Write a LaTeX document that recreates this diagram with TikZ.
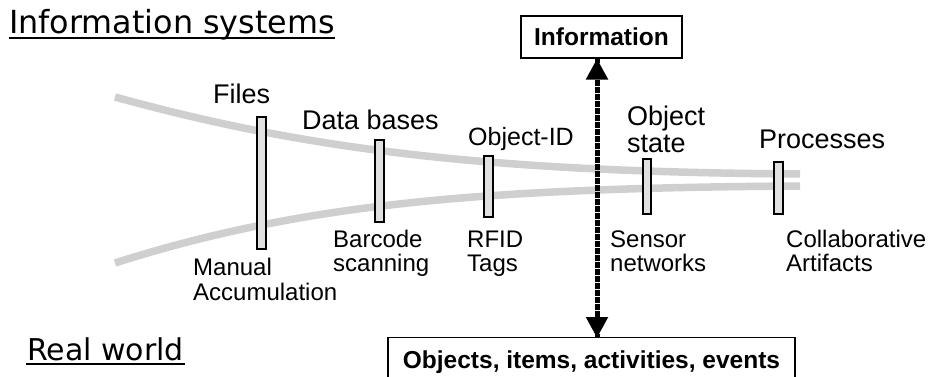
\documentclass[tikz,border=0pt]{standalone}
\usepackage{fontspec}
\setmainfont{Liberation Sans}
\newfontfamily\headfont{DejaVu Sans}
\usetikzlibrary{arrows.meta}

\begin{document}
\begin{tikzpicture}[x=1pt, y=-1pt,
  track/.style={draw=black!19, line width=7.5pt, line cap=butt},
  stage/.style={draw=black, fill=black!12, line width=1.1pt},
  head/.style={anchor=base west, inner sep=0pt},
  toplab/.style={anchor=base west, inner sep=0pt, font=\fontsize{27}{32}\selectfont},
  lowlab/.style={anchor=base west, inner sep=0pt, font=\fontsize{24}{29}\selectfont},
  infobox/.style={draw=black, line width=1.1pt, inner sep=0pt, font=\bfseries\fontsize{24.5}{29}\selectfont},
  flow/.style={line width=5pt, dash pattern=on 4pt off 3pt,
    -{Triangle[length=21pt, width=21pt]}}
]
\useasboundingbox (0,0) rectangle (931,377);
\clip (0,0) rectangle (931,377);

% converging tracks between the two worlds
\draw[track] (115,97) .. controls (300,148) and (480,172) .. (800,174);
\draw[track] (115,263) .. controls (300,204) and (480,188) .. (800,186);

% stage markers
\draw[stage] (257,117) rectangle (266,249);
\draw[stage] (375,140) rectangle (384,222);
\draw[stage] (484,156) rectangle (493,217);
\draw[stage] (643,159) rectangle (651,214);
\draw[stage] (774,162) rectangle (783,214);

% world headings, underlined
\node[head, font=\headfont\fontsize{31.8}{38}\selectfont] (is) at (9,34) {Information systems};
\draw[line width=2pt] ([yshift=-4pt]is.base west) -- ([yshift=-4pt]is.base east);
\node[head, font=\headfont\fontsize{30}{36}\selectfont] (rw) at (27,360) {Real world};
\draw[line width=2pt] ([xshift=-1pt, yshift=-4pt]rw.base west) -- ([xshift=1pt, yshift=-4pt]rw.base east);

% stage names
\node[toplab] (files) at (213,104) {Files};
\node[toplab] (db) at (302,130) {Data bases};
\node[toplab, font=\fontsize{25}{30}\selectfont] (oid) at (468,146) {Object-ID};
\node[toplab] (os1) at (627,125) {Object};
\node[toplab] (os2) at (627,152) {state};
\node[toplab] (proc) at (759,149) {Processes};

% technologies
\node[lowlab] (m1) at (193,275) {Manual};
\node[lowlab] (m2) at (193,300) {Accumulation};
\node[lowlab] (bc1) at (333,247) {Barcode};
\node[lowlab] (bc2) at (333,271) {scanning};
\node[lowlab] (rf1) at (467,247) {RFID};
\node[lowlab] (rf2) at (467,271) {Tags};
\node[lowlab] (sn1) at (610,247) {Sensor};
\node[lowlab] (sn2) at (610,271) {networks};
\node[lowlab] (ca1) at (786,247) {Collaborative};
\node[lowlab] (ca2) at (786,271) {Artifacts};

% information and real-world boxes
\node[infobox, minimum width=161pt, minimum height=42pt] (info) at (601.5,37) {Information};
\node[infobox, anchor=north, minimum width=407pt, text height=18pt, text depth=30pt, inner ysep=13pt]
  (objs) at (591.5,337) {Objects, items, activities, events};

% two-way link between information and the real world
\coordinate (lowend) at ([xshift=-4.5pt, yshift=-1pt]info.south |- objs.north);
\draw[flow] ([xshift=-4.5pt]info.south) -- (lowend);
\draw[flow] (lowend) -- ([xshift=-4.5pt]info.south);
\end{tikzpicture}
\end{document}
